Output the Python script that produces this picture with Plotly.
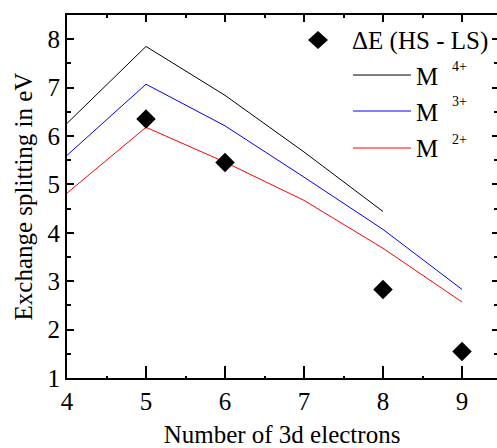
import plotly.graph_objects as go

# ---- data ----
electrons = [4, 5, 6, 7, 8, 9]
m4_x = [4, 5, 6, 7, 8]
m4_y = [6.26, 7.85, 6.84, 5.67, 4.44]
m3_y = [5.60, 7.07, 6.21, 5.15, 4.07, 2.83]
m2_y = [4.82, 6.18, 5.46, 4.67, 3.68, 2.57]
de_x = [5, 6, 8, 9]
de_y = [6.35, 5.45, 2.83, 1.55]

legend_labels = ["ΔE (HS - LS)", "M", "M", "M"]
legend_sups = ["4+", "3+", "2+"]
line_colors = ["#000000", "#0000ff", "#ff0000"]

FONT = "Liberation Serif, Times New Roman, serif"

fig = go.Figure()
fig.add_trace(go.Scatter(x=m4_x, y=m4_y, mode="lines", line=dict(color=line_colors[0], width=1), showlegend=False))
fig.add_trace(go.Scatter(x=electrons, y=m3_y, mode="lines", line=dict(color=line_colors[1], width=1), showlegend=False))
fig.add_trace(go.Scatter(x=electrons, y=m2_y, mode="lines", line=dict(color=line_colors[2], width=1), showlegend=False))
fig.add_trace(go.Scatter(x=de_x, y=de_y, mode="markers",
                         marker=dict(symbol="diamond", size=15, color="black", line=dict(width=0)),
                         showlegend=False))

W, H = 497, 448
L, R, T, B = 67, 0, 15, 70
pw, ph = W - L - R, H - T - B

def px(x):
    return (x - L) / pw

def py(y):
    return (H - B - y) / ph

# custom legend
shapes = []
annotations = []
shapes.append(dict(type="path", xref="paper", yref="paper", xsizemode="pixel", ysizemode="pixel",
                   xanchor=px(318), yanchor=py(40),
                   path="M -10 0 L 0 9 L 10 0 L 0 -9 Z", fillcolor="black", line=dict(width=0)))
annotations.append(dict(text=legend_labels[0], xref="paper", yref="paper", x=px(350), y=py(41),
                        xanchor="left", yanchor="middle", showarrow=False,
                        font=dict(family=FONT, size=25, color="black")))
for i, yy in enumerate([75, 111, 148]):
    shapes.append(dict(type="line", xref="paper", yref="paper", x0=px(353), x1=px(411), y0=py(yy), y1=py(yy),
                       line=dict(color=line_colors[i], width=1)))
    annotations.append(dict(text=legend_labels[i + 1], xref="paper", yref="paper", x=px(414), y=py(yy + 1),
                            xanchor="left", yanchor="middle", showarrow=False,
                            font=dict(family=FONT, size=25, color="black")))
    annotations.append(dict(text=legend_sups[i], xref="paper", yref="paper", x=px(450), y=py(yy - 9),
                            xanchor="left", yanchor="middle", showarrow=False,
                            font=dict(family=FONT, size=14, color="black")))

axis_common = dict(showgrid=False, zeroline=False, showline=True, linecolor="black", linewidth=2,
                   ticks="inside", tickcolor="black", tickwidth=1.5,
                   tickfont=dict(family=FONT, size=25, color="black"))

fig.update_layout(
    width=W, height=H,
    margin=dict(l=L, r=R, t=T, b=B),
    paper_bgcolor="white", plot_bgcolor="white",
    font=dict(family=FONT, color="black"),
    shapes=shapes, annotations=annotations,
    xaxis=dict(range=[4, 9.443], dtick=1, ticklen=12,
               minor=dict(ticks="inside", dtick=0.5, ticklen=2, tickcolor="black"),
               title=dict(text="Number of 3d electrons", font=dict(family=FONT, size=25, color="black"), standoff=12),
               **axis_common),
    yaxis=dict(range=[1, 8.5], dtick=1, ticklen=7,
               minor=dict(ticks="inside", dtick=0.5, ticklen=4, tickcolor="black"),
               title=dict(text="Exchange splitting in eV", font=dict(family=FONT, size=25, color="black"), standoff=8),
               **axis_common),
    xaxis2=dict(overlaying="x", matches="x", side="top", showgrid=False, zeroline=False, showline=True,
                linecolor="black", linewidth=2, ticks="inside", ticklen=7, tickwidth=1.5, tickcolor="black",
                dtick=1, showticklabels=False,
                minor=dict(ticks="inside", dtick=0.5, ticklen=3, tickcolor="black")),
    yaxis2=dict(overlaying="y", matches="y", side="right", showgrid=False, zeroline=False, showline=False,
                ticks="inside", ticklen=5, tickwidth=1.5, tickcolor="black", dtick=1, showticklabels=False,
                minor=dict(ticks="inside", dtick=0.5, ticklen=3, tickcolor="black")),
)
# invisible trace to activate the mirrored axes
fig.add_trace(go.Scatter(x=[None], y=[None], xaxis="x2", yaxis="y2", showlegend=False, hoverinfo="skip"))

fig.write_html("out.html")
